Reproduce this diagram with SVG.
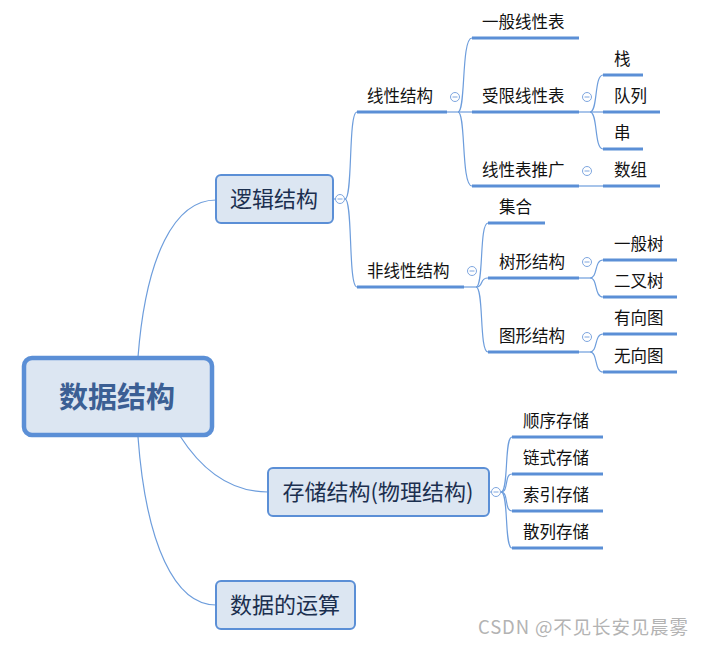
<svg xmlns="http://www.w3.org/2000/svg" width="704" height="646" viewBox="0 0 704 646">
<style>
.box{fill:#dce6f2;stroke:#5b8fd6;stroke-width:2}
.root{fill:#dce6f2;stroke:#5b8fd6;stroke-width:4.5}
.ul{stroke:#5b8fd6;stroke-width:3;fill:none}
.c{stroke:#6d9ddc;stroke-width:1.2;fill:none}
.cir{fill:#fff;stroke:#7ea6df;stroke-width:1}
.mn{stroke:#7ea6df;stroke-width:1}
text{font-family:"Microsoft YaHei","Noto Sans CJK SC","Noto Sans",sans-serif}
.lt{font-size:16.5px;fill:#111}
.bt{font-size:22px;fill:#1b2f4f}
.rt{font-size:29px;font-weight:bold;fill:#3b5f94}
.wm{font-size:18.5px;fill:#b3b3b3}
</style>
<defs>
<g id="col"><circle r="4.5" class="cir"/><line x1="-2.5" y1="0" x2="2.5" y2="0" class="mn"/></g>
</defs>
<g id="connectors">
<path class="c" d="M138,357 C146,255 175,200 216,200"/>
<path class="c" d="M180,436 C205,475 235,492 268,492"/>
<path class="c" d="M138,437 C146,545 175,605 216,605"/>
<path class="c" d="M333,199 L336,199"/>
<path class="c" d="M345,199 C353,199 348,112 357,112"/>
<path class="c" d="M345,199 C353,199 348,287 357,287"/>
<path class="c" d="M447,112 L472,112"/>
<path class="c" d="M458,112 C466,112 461,38 472,38"/>
<path class="c" d="M458,112 C466,112 461,186 472,186"/>
<path class="c" d="M579,112 L603,112"/>
<path class="c" d="M590,112 C598,112 594,75 603,75"/>
<path class="c" d="M590,112 C598,112 594,149 603,149"/>
<path class="c" d="M579,186 L603,186"/>
<path class="c" d="M464,287 L476,287"/>
<path class="c" d="M476,287 C484,287 479,223 488,223"/>
<path class="c" d="M476,287 C484,287 479,278 488,278"/>
<path class="c" d="M476,287 C484,287 479,352 488,352"/>
<path class="c" d="M579,278 L590,278"/>
<path class="c" d="M590,278 C598,278 594,260 603,260"/>
<path class="c" d="M590,278 C598,278 594,297 603,297"/>
<path class="c" d="M579,352 L590,352"/>
<path class="c" d="M590,352 C598,352 594,334 603,334"/>
<path class="c" d="M590,352 C598,352 594,372 603,372"/>
<path class="c" d="M489,492 L491,492"/>
<path class="c" d="M501,492 C509,492 504,437 512,437"/>
<path class="c" d="M501,492 C509,492 504,474 512,474"/>
<path class="c" d="M501,492 C509,492 504,511 512,511"/>
<path class="c" d="M501,492 C509,492 504,548 512,548"/>
</g>
<g id="root"><rect class="root" x="24" y="358" width="188" height="77" rx="8"/><text class="rt" x="117" y="408" text-anchor="middle">数据结构</text></g>
<g id="n-luoji"><rect class="box" x="216" y="175" width="117" height="48" rx="5"/><text class="bt" x="274" y="207" text-anchor="middle">逻辑结构</text><use href="#col" x="340" y="199"/></g>
<g id="n-cunchu"><rect class="box" x="268" y="468" width="221" height="48" rx="5"/><text class="bt" x="378" y="500" text-anchor="middle">存储结构(物理结构)</text><use href="#col" x="496" y="492"/></g>
<g id="n-yunsuan"><rect class="box" x="216" y="581" width="139" height="48" rx="5"/><text class="bt" x="285" y="613" text-anchor="middle">数据的运算</text></g>
<g id="n-xianxing"><line class="ul" x1="357" y1="112" x2="447" y2="112"/><text class="lt" x="367" y="102">线性结构</text><use href="#col" x="455" y="97"/></g>
<g id="n-feixianxing"><line class="ul" x1="357" y1="287" x2="464" y2="287"/><text class="lt" x="367" y="277">非线性结构</text><use href="#col" x="472" y="271"/></g>
<g id="n-yiban"><line class="ul" x1="472" y1="38" x2="579" y2="38"/><text class="lt" x="482" y="28">一般线性表</text></g>
<g id="n-shouxian"><line class="ul" x1="472" y1="112" x2="579" y2="112"/><text class="lt" x="482" y="102">受限线性表</text><use href="#col" x="587" y="97"/></g>
<g id="n-tuiguang"><line class="ul" x1="472" y1="186" x2="579" y2="186"/><text class="lt" x="482" y="176">线性表推广</text><use href="#col" x="587" y="171"/></g>
<g id="n-zhan"><line class="ul" x1="603" y1="75" x2="643" y2="75"/><text class="lt" x="614" y="65">栈</text></g>
<g id="n-duilie"><line class="ul" x1="603" y1="112" x2="660" y2="112"/><text class="lt" x="614" y="102">队列</text></g>
<g id="n-chuan"><line class="ul" x1="603" y1="149" x2="643" y2="149"/><text class="lt" x="614" y="139">串</text></g>
<g id="n-shuzu"><line class="ul" x1="603" y1="186" x2="660" y2="186"/><text class="lt" x="614" y="176">数组</text></g>
<g id="n-jihe"><line class="ul" x1="488" y1="223" x2="545" y2="223"/><text class="lt" x="499" y="213">集合</text></g>
<g id="n-shuxing"><line class="ul" x1="488" y1="278" x2="579" y2="278"/><text class="lt" x="499" y="268">树形结构</text><use href="#col" x="587" y="262"/></g>
<g id="n-tuxing"><line class="ul" x1="488" y1="352" x2="579" y2="352"/><text class="lt" x="499" y="342">图形结构</text><use href="#col" x="587" y="337"/></g>
<g id="n-yibanshu"><line class="ul" x1="603" y1="260" x2="677" y2="260"/><text class="lt" x="614" y="250">一般树</text></g>
<g id="n-erchashu"><line class="ul" x1="603" y1="297" x2="677" y2="297"/><text class="lt" x="614" y="287">二叉树</text></g>
<g id="n-youxiang"><line class="ul" x1="603" y1="334" x2="677" y2="334"/><text class="lt" x="614" y="324">有向图</text></g>
<g id="n-wuxiang"><line class="ul" x1="603" y1="372" x2="677" y2="372"/><text class="lt" x="614" y="362">无向图</text></g>
<g id="n-shunxu"><line class="ul" x1="512" y1="437" x2="603" y2="437"/><text class="lt" x="523" y="427">顺序存储</text></g>
<g id="n-lianshi"><line class="ul" x1="512" y1="474" x2="603" y2="474"/><text class="lt" x="523" y="464">链式存储</text></g>
<g id="n-suoyin"><line class="ul" x1="512" y1="511" x2="603" y2="511"/><text class="lt" x="523" y="501">索引存储</text></g>
<g id="n-sanlie"><line class="ul" x1="512" y1="548" x2="603" y2="548"/><text class="lt" x="523" y="538">散列存储</text></g>
<text class="wm" x="478" y="634" textLength="210" lengthAdjust="spacing">CSDN @不见长安见晨雾</text>
</svg>
